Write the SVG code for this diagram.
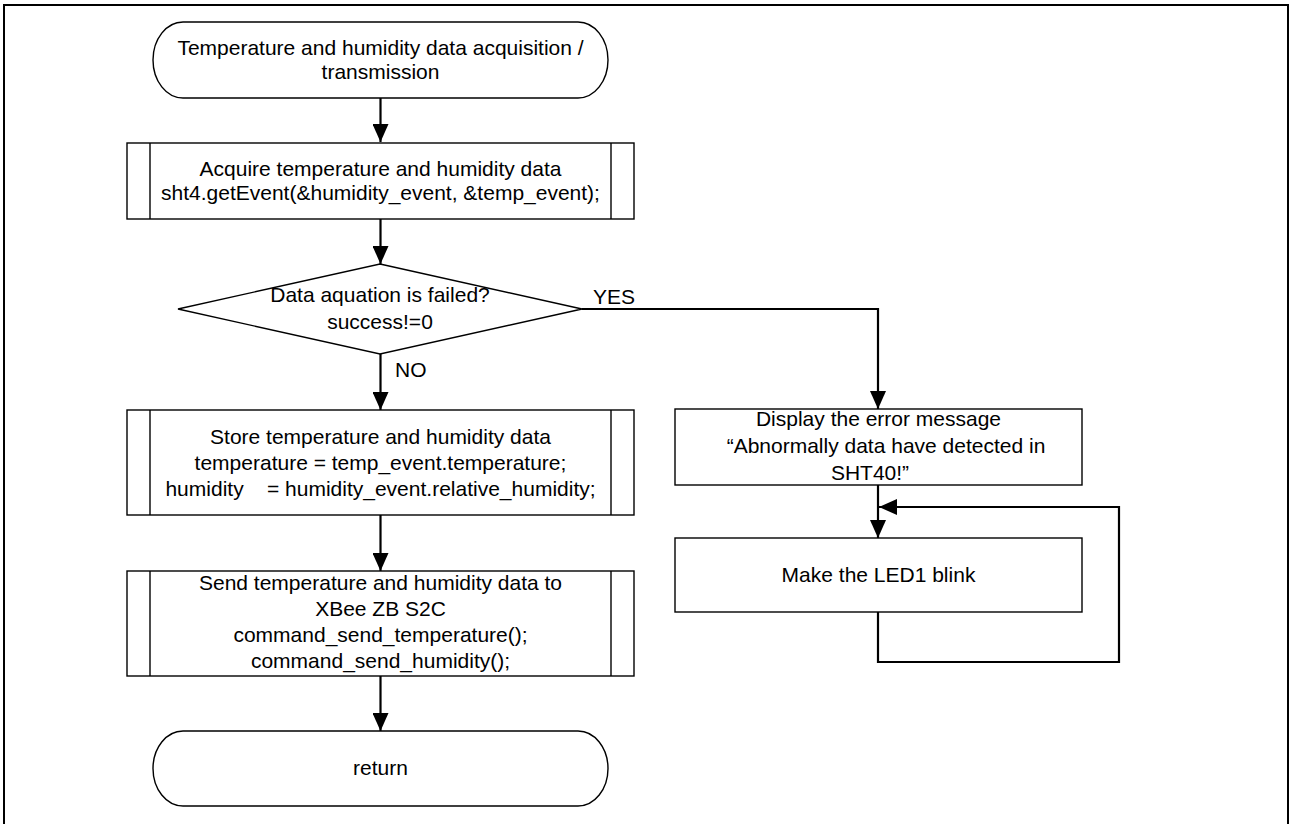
<svg xmlns="http://www.w3.org/2000/svg" width="1290" height="824" viewBox="0 0 1290 824">
<defs>
<style>
.shape{fill:#fff;stroke:#000;stroke-width:1.4}
.conn{fill:none;stroke:#000;stroke-width:2.2}
.t{font-family:"Liberation Sans",Arial,sans-serif;font-size:21px;fill:#000;text-anchor:middle}
.ts{font-family:"Liberation Sans",Arial,sans-serif;font-size:21px;fill:#000;text-anchor:start}
</style>
<marker id="ah" markerUnits="userSpaceOnUse" markerWidth="18" markerHeight="16" viewBox="0 0 18 16" refX="18" refY="8" orient="auto">
<path d="M0,0 L18,8 L0,16 Z" fill="#000"/>
</marker>
</defs>
<rect x="0" y="0" width="1290" height="824" fill="#fff"/>
<rect id="frame" x="4" y="5" width="1284" height="830" fill="none" stroke="#000" stroke-width="2"/>

<g id="connectors">
<path class="conn" d="M380.5,98 V142" marker-end="url(#ah)"/>
<path class="conn" d="M380.5,219 V264" marker-end="url(#ah)"/>
<path class="conn" d="M380.5,354 V410" marker-end="url(#ah)"/>
<path class="conn" d="M380.5,515 V571" marker-end="url(#ah)"/>
<path class="conn" d="M380.5,676 V731" marker-end="url(#ah)"/>
<path class="conn" d="M582,309 H878 V409" marker-end="url(#ah)"/>
<path class="conn" d="M878,485 V538" marker-end="url(#ah)"/>
<path class="conn" d="M878,612 V662 H1119 V507 H879" marker-end="url(#ah)"/>
<text class="ts" x="593" y="304">YES</text>
<text class="ts" x="395" y="377">NO</text>
</g>

<g id="start">
<path class="shape" d="M183,22 H578 A30,38 0 0 1 578,98 H183 A30,38 0 0 1 183,22 Z"/>
<text class="t" x="380.5" y="55">Temperature and humidity data acquisition /</text>
<text class="t" x="380.5" y="79">transmission</text>
</g>

<g id="acquire">
<rect class="shape" x="127" y="143" width="507" height="76"/>
<line class="shape" x1="150" y1="143" x2="150" y2="219"/>
<line class="shape" x1="611" y1="143" x2="611" y2="219"/>
<text class="t" x="380.5" y="176">Acquire temperature and humidity data</text>
<text class="t" x="380.5" y="200">sht4.getEvent(&amp;humidity_event, &amp;temp_event);</text>
</g>

<g id="decision">
<polygon class="shape" points="380,264 582,309 380,354 178,309"/>
<text class="t" x="380" y="302">Data aquation is failed?</text>
<text class="t" x="380" y="329">success!=0</text>
</g>

<g id="store">
<rect class="shape" x="127" y="410" width="507" height="105"/>
<line class="shape" x1="150" y1="410" x2="150" y2="515"/>
<line class="shape" x1="611" y1="410" x2="611" y2="515"/>
<text class="t" x="380.5" y="444">Store temperature and humidity data</text>
<text class="t" x="380.5" y="470">temperature = temp_event.temperature;</text>
<text class="t" x="380.5" y="496" xml:space="preserve" style="white-space:pre">humidity    = humidity_event.relative_humidity;</text>
</g>

<g id="send">
<rect class="shape" x="127" y="571" width="507" height="105"/>
<line class="shape" x1="150" y1="571" x2="150" y2="676"/>
<line class="shape" x1="611" y1="571" x2="611" y2="676"/>
<text class="t" x="380.5" y="590">Send temperature and humidity data to</text>
<text class="t" x="380.5" y="616">XBee ZB S2C</text>
<text class="t" x="380.5" y="642">command_send_temperature();</text>
<text class="t" x="380.5" y="668">command_send_humidity();</text>
</g>

<g id="return">
<path class="shape" d="M183,731 H578 A30,37.5 0 0 1 578,806 H183 A30,37.5 0 0 1 183,731 Z"/>
<text class="t" x="380.5" y="775">return</text>
</g>

<g id="error">
<rect class="shape" x="675" y="409" width="407" height="76"/>
<text class="t" x="878.5" y="426">Display the error message</text>
<text class="t" x="886" y="453">“Abnormally data have detected in</text>
<text class="t" x="870" y="480">SHT40!”</text>
</g>

<g id="led">
<rect class="shape" x="675" y="538" width="407" height="74"/>
<text class="t" x="878.5" y="582">Make the LED1 blink</text>
</g>
</svg>
